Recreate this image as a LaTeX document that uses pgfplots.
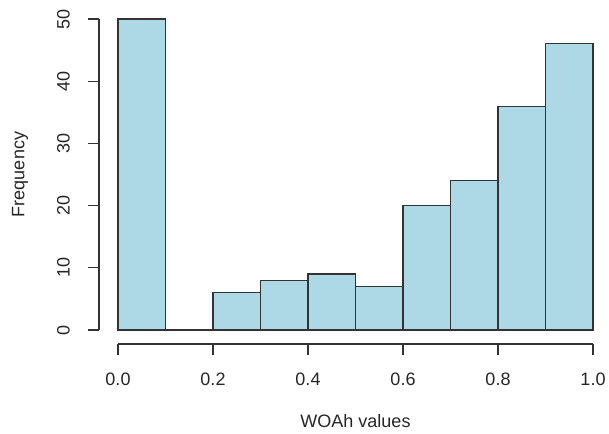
\documentclass[border=0pt]{standalone}
\usepackage{fontspec}
\setmainfont{Liberation Sans}
\usepackage{pgfplots}
\pgfplotsset{compat=1.18}
\definecolor{rblue}{HTML}{ADD8E6}
\definecolor{rline}{HTML}{333333}

\begin{document}
\begin{tikzpicture}
\useasboundingbox (-88.5pt,-78pt) rectangle (368.25pt,247.5pt);
\begin{axis}[
  scale only axis, width=356.25pt, height=233.25pt,
  xmin=0, xmax=1, ymin=0, ymax=50,
  clip=false,
  axis lines=left,
  separate axis lines,
  axis line style={rline, line width=0.8pt, -},
  axis x line shift=10.5pt,
  axis y line shift=14.25pt,
  xtick={0,0.2,...,1.0},
  ytick={0,10,...,50},
  tick align=outside,
  major tick length=8pt,
  tick style={rline, line width=0.8pt},
  xticklabel style={anchor=center, yshift=-18.75pt,
    /pgf/number format/.cd, fixed, fixed zerofill, precision=1},
  yticklabel style={xshift=-18.75pt, rotate=90, anchor=center},
  /pgf/number format/assume math mode=true,
  tick label style={font=\fontsize{13.5}{16}\selectfont, text=black!85},
  label style={font=\fontsize{13.5}{16}\selectfont, text=black!85},
  xlabel={WOAh values},
  ylabel={Frequency},
  xlabel style={at={(axis description cs:0.5,-0.2926)}, anchor=center},
  ylabel style={at={(axis description cs:-0.206,0.5)}, anchor=center},
]
\addplot[ybar interval, fill=rblue, draw=rline, line width=0.8pt]
  coordinates {(0,50) (0.1,0) (0.2,6) (0.3,8) (0.4,9) (0.5,7)
               (0.6,20) (0.7,24) (0.8,36) (0.9,46) (1.0,46)};
% R draws its y axis line detached from the plot region
\draw[rline, line width=0.8pt]
  ([xshift=-14.25pt]axis cs:0,0) -- ([xshift=-14.25pt]axis cs:0,50);
\end{axis}
\end{tikzpicture}
\end{document}
